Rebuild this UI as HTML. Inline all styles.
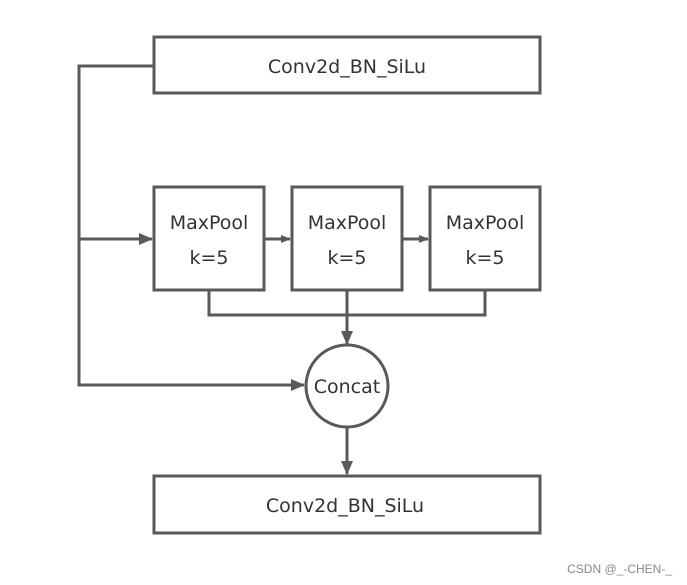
<!DOCTYPE html>
<html><head><meta charset="utf-8"><style>
html,body{margin:0;padding:0;background:#fff;width:687px;height:585px;overflow:hidden}
svg{display:block}
text{font-family:"Segoe UI","DejaVu Sans","Liberation Sans",sans-serif;fill:#333;font-size:19px}
</style></head><body>
<svg width="687" height="585" viewBox="0 0 687 585" xmlns="http://www.w3.org/2000/svg">
<defs><marker id="a" markerWidth="10" markerHeight="8" refX="9" refY="4" orient="auto" markerUnits="userSpaceOnUse"><path d="M0,0 L10,4 L0,8 z" fill="#595959"/></marker>
<marker id="b" markerWidth="14" markerHeight="12" refX="13" refY="6" orient="auto" markerUnits="userSpaceOnUse"><path d="M0,0 L14,6 L0,12 z" fill="#595959"/></marker></defs>
<g stroke="#595959" stroke-width="3" fill="none">
<rect x="154" y="37" width="386" height="56"/>
<rect x="154" y="187" width="110" height="103"/>
<rect x="292" y="187" width="110" height="103"/>
<rect x="430" y="187" width="110" height="103"/>
<rect x="154" y="476" width="386" height="57"/>
<circle cx="347" cy="386" r="41"/>
<polyline points="154,66 79,66 79,385 304,385" marker-end="url(#b)"/>
<line x1="79" y1="239" x2="152" y2="239" marker-end="url(#b)"/>
<line x1="264" y1="239" x2="290" y2="239" marker-end="url(#a)"/>
<line x1="402" y1="239" x2="428" y2="239" marker-end="url(#a)"/>
<polyline points="209,290 209,315 485,315 485,290"/>
<line x1="347" y1="290" x2="347" y2="344" marker-end="url(#b)"/>
<line x1="347" y1="427" x2="347" y2="474" marker-end="url(#b)"/>
</g>
<text x="347" y="73" text-anchor="middle">Conv2d_BN_SiLu</text>
<text x="209" y="229" text-anchor="middle">MaxPool</text>
<text x="209" y="264" text-anchor="middle">k=5</text>
<text x="347" y="229" text-anchor="middle">MaxPool</text>
<text x="347" y="264" text-anchor="middle">k=5</text>
<text x="485" y="229" text-anchor="middle">MaxPool</text>
<text x="485" y="264" text-anchor="middle">k=5</text>
<text x="347" y="393" text-anchor="middle">Concat</text>
<text x="345" y="512" text-anchor="middle">Conv2d_BN_SiLu</text>
<text x="672" y="573" text-anchor="end" style="font-size:12px;fill:#888;font-family:'Liberation Sans',sans-serif">CSDN @_-CHEN-_</text>
</svg>
</body></html>
